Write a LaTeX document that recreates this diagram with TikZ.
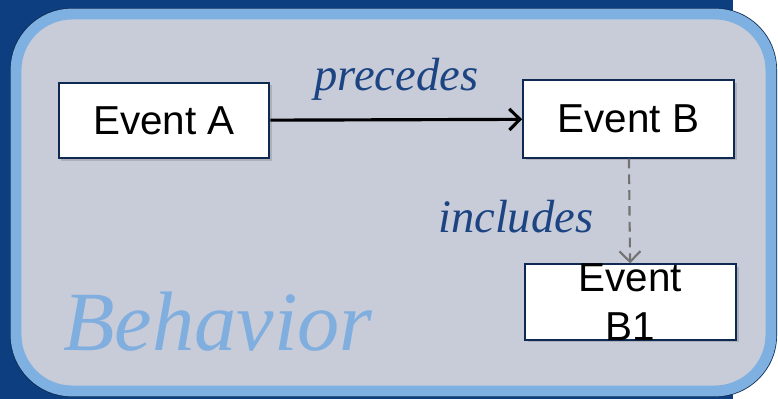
\documentclass[tikz,border=0pt]{standalone}
\usepackage{fontspec}
\setmainfont{Liberation Sans}
\newfontfamily\relfont{Liberation Serif}
\usepackage{xcolor}
\usepackage{tikz}
\usetikzlibrary{arrows.meta,positioning,shadows}
\definecolor{bgnavy}{HTML}{0D3F80}
\definecolor{rimblue}{HTML}{7EB0E1}
\definecolor{panelgray}{HTML}{C8CBD8}
\definecolor{relblue}{HTML}{1C4482}
\definecolor{boxedge}{HTML}{0E2A52}
\definecolor{titleblue}{HTML}{7FAEDF}
\tikzset{
  evnode/.style={rectangle,draw=boxedge,line width=1.1pt,fill=white,
    minimum width=120pt,minimum height=43pt,inner sep=0pt,
    font=\fontsize{23}{28}\selectfont,
    drop shadow={opacity=0.35,shadow xshift=1.5pt,shadow yshift=-1.5pt}},
  rellabel/.style={font=\relfont\itshape\fontsize{26.5}{30}\selectfont,text=relblue,inner sep=0pt},
  precedge/.style={-{Straight Barb[length=6pt,width=12pt,line width=1.8pt]},line width=1.8pt,black},
  incledge/.style={-{Straight Barb[length=6pt,width=12pt,line width=1.2pt]},line width=1.2pt,
    gray!90!black,dash pattern=on 5.5pt off 3.5pt},
}

\begin{document}
\begin{tikzpicture}[x=0.02cm,y=-0.02cm]
  \useasboundingbox (0,0) rectangle (778,399);
  % backdrop and panel
  \fill[bgnavy] (0,0) rectangle (733,399);
  \fill[boxedge] (10,8) [rounded corners=35pt] rectangle (777,397);
  \filldraw[fill=panelgray,draw=rimblue,line width=6.2pt,rounded corners=32pt]
    (16,14) rectangle (771,391);
  \node[font=\relfont\itshape\fontsize{48}{52}\selectfont,text=titleblue,anchor=base west,inner sep=0pt]
    (behav) at (63,350) {Behavior};
  % events
  \node[evnode] (evA) at (164,120.5) {Event A};
  \node[evnode,minimum height=44pt] (evB) at (628.5,119) {Event B};
  \node[evnode,label={[font=\fontsize{23}{28}\selectfont,align=center]center:Event\\B1}]
    (evB1) at (630.5,302) {};
  % relations
  \draw[precedge] (evA) -- node[rellabel,midway,above=10pt] {precedes} (evB);
  \draw[incledge] (evB) -- node[rellabel,midway,left=20pt,yshift=-3pt] {includes} (evB1);
\end{tikzpicture}
\end{document}
